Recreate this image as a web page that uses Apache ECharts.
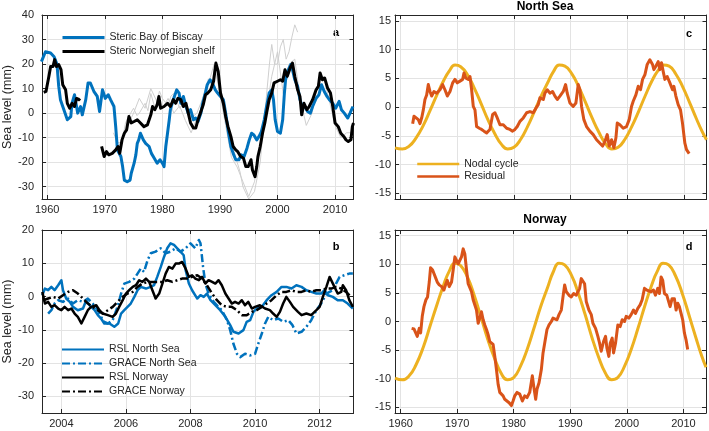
<!DOCTYPE html>
<html><head><meta charset="utf-8">
<script src="https://cdn.jsdelivr.net/npm/echarts@6/dist/echarts.min.js"></script>
<style>html,body{margin:0;padding:0;background:#fff}#c{width:709px;height:431px}</style>
</head><body><div id="c"></div>
<script>
// ---------- Panel a: steric sea level (year, mm) ----------
const stericBiscay = [[1959.0,21],[1959.7,25],[1960.6,24.5],[1961.2,23],[1961.7,20],[1962.0,11],[1962.3,5.5],[1962.9,1.4],[1963.5,-2.7],[1964.1,-1.4],[1964.3,4],[1964.75,7.5],[1965.1,2.7],[1965.3,0],[1965.8,2.7],[1966.1,-0.7],[1966.7,5.5],[1967.1,12.3],[1967.5,12.3],[1968.1,8.9],[1968.7,6.8],[1969.1,0.7],[1969.6,9.5],[1970.1,6],[1970.6,7.5],[1971.0,5.5],[1971.6,2.7],[1971.9,-5.5],[1972.2,-15],[1972.8,-17.7],[1973.1,-21.8],[1973.4,-27.3],[1973.9,-28],[1974.4,-27.3],[1974.6,-24.5],[1975.1,-20.4],[1975.4,-17],[1975.65,-12.3],[1975.9,-10.9],[1976.2,-8.2],[1976.7,-10.9],[1977.1,-12.3],[1977.7,-13.6],[1978.1,-16.4],[1978.6,-18.4],[1979.1,-20.4],[1979.6,-19],[1980.0,-20.4],[1980.3,-21.8],[1980.6,-13.6],[1980.9,-8.2],[1981.2,-2.7],[1981.4,1.4],[1981.9,5.5],[1982.5,9.5],[1982.9,8.2],[1983.2,4],[1983.65,6.8],[1984.1,2.7],[1984.5,0],[1984.9,1.4],[1985.4,-2.7],[1985.8,-2],[1986.2,-3.4],[1986.7,0],[1987.0,4],[1987.4,7.5],[1987.8,11.6],[1988.3,13.6],[1988.7,12.3],[1989.2,9.5],[1989.6,8.2],[1990.1,6.8],[1990.6,5.5],[1991.0,0],[1991.5,-8.2],[1991.9,-13.6],[1992.3,-16.4],[1992.75,-19],[1993.3,-19],[1993.7,-17],[1994.2,-17.7],[1994.7,-14.3],[1995.1,-10.9],[1995.5,-8.2],[1995.9,-8.9],[1996.4,-10.9],[1996.8,-9.5],[1997.2,-7.5],[1997.7,-2.7],[1998.1,2.7],[1998.55,8.2],[1999.0,9.5],[1999.3,5.5],[1999.6,-2.7],[2000.0,-7.5],[2000.5,-8.2],[2000.9,-2.7],[2001.2,8.2],[2001.4,13.6],[2001.9,17.7],[2002.3,19.8],[2002.6,17.7],[2003.0,13.6],[2003.5,10.9],[2003.9,5.5],[2004.3,2.7],[2004.75,2.7],[2005.2,0.7],[2005.7,0],[2006.1,2.7],[2006.7,6],[2007.2,7.5],[2007.65,11.6],[2008.1,8.9],[2008.6,6.8],[2009.0,5.5],[2009.6,4],[2010.1,2],[2010.7,4.8],[2011.1,1.4],[2011.6,0],[2012.2,-2],[2012.6,0],[2013.1,2.7]];
const stericNorwayEarly = [[1959.4,8.5],[1959.8,8.9],[1960.3,15],[1960.6,19],[1961.0,19],[1961.3,21.8],[1961.6,19],[1962.0,19.8],[1962.4,17.7],[1962.7,11.6],[1963.2,9.5],[1963.5,4],[1963.9,2],[1964.35,4],[1964.75,2.7],[1965.1,6],[1965.5,5.5],[1965.7,6]];
const stericNorwayLate = [[1969.45,-13.6],[1969.9,-17.7],[1970.3,-15.7],[1970.7,-17],[1971.3,-16.4],[1971.9,-15],[1972.3,-13.6],[1972.6,-16.4],[1973.0,-10.9],[1973.4,-8.2],[1973.8,-6.8],[1974.2,-1.4],[1974.6,-4],[1975.1,-3.4],[1975.65,-2.7],[1976.2,-4],[1976.8,-5.5],[1977.4,-4.8],[1978.0,-0.7],[1978.3,2.7],[1978.7,1.4],[1979.1,3.4],[1979.4,6.8],[1979.7,2],[1980.3,2.7],[1980.9,4],[1981.4,2.7],[1981.9,5.5],[1982.3,4],[1982.7,6],[1983.2,5.5],[1983.65,2.7],[1984.1,4],[1984.5,0],[1984.9,-4],[1985.4,-6.1],[1985.8,-6.1],[1986.2,-2.7],[1986.7,0.7],[1987.1,3.4],[1987.5,7.5],[1987.9,8.2],[1988.4,9.5],[1988.9,13],[1989.3,20.4],[1989.7,17],[1990.1,8.2],[1990.6,4],[1991.0,-1.4],[1991.4,-5.5],[1991.9,-9.5],[1992.3,-13.6],[1992.75,-15],[1993.1,-15.7],[1993.6,-17.7],[1994.1,-18.4],[1994.5,-21.8],[1994.9,-21.8],[1995.4,-19],[1995.65,-23.2],[1996.1,-25.9],[1996.4,-21.8],[1996.6,-17.7],[1997.0,-13.6],[1997.4,-8.2],[1997.8,-4],[1998.1,0],[1998.55,5.5],[1999.0,8.2],[1999.4,12.3],[2000.0,13],[2000.5,13.6],[2000.9,13],[2001.3,17.7],[2001.7,15],[2002.2,18.4],[2002.6,20.4],[2003.0,15],[2003.5,9.5],[2003.9,6.8],[2004.2,-0.7],[2004.6,4],[2005.1,1.4],[2005.5,2.7],[2006.1,5.5],[2006.7,9.5],[2007.1,10.9],[2007.4,16.4],[2007.8,13.6],[2008.2,14.3],[2008.7,10.2],[2009.2,8.2],[2009.6,2.7],[2010.0,-4],[2010.55,-5.5],[2011.0,-8.2],[2011.5,-9.5],[2011.9,-10.9],[2012.3,-11.6],[2012.75,-10.9],[2013.0,-5.5],[2013.2,-4]];
const greyStationA = [[1971.5,-8],[1972.2,-12],[1973,-12],[1973.6,-4],[1974,-2],[1975,2],[1975.6,-1],[1976,0],[1977,4],[1977.5,1],[1978,8],[1978.6,3],[1979,4],[1979.5,9],[1980,6],[1981,3],[1981.5,7],[1982,8],[1983,2],[1984,5],[1985,-2],[1986,0],[1987,6],[1988,14],[1988.6,11],[1989,18],[1989.5,14],[1990,10],[1991,-2],[1992,-12],[1993,-20],[1993.5,-24],[1994,-30],[1995,-35],[1996,-32],[1997,-20],[1998,5],[1998.6,20],[1999,28],[1999.5,20],[2000,20],[2000.5,27],[2001,30],[2001.5,22],[2002,25],[2002.5,31],[2003,36],[2003.5,33]];
const greyStationB = [[1974,-5],[1975,0],[1976,6],[1977,2],[1978,10],[1979,5],[1980,2],[1981,6],[1982,0],[1983,3],[1984,-3],[1985,-8],[1986,-2],[1987,3],[1988,12],[1989,20],[1990,8],[1991,-5],[1992,-18],[1993,-22],[1994,-28],[1995,-34],[1996,-28],[1997,-15],[1998,0],[1999,15],[2000,25],[2001,8],[2002,20],[2003,22],[2004,5],[2005,-5],[2006,0],[2007,12],[2008,15],[2009,5],[2010,-5],[2011,-10],[2012,-8],[2013,-8]];

// ---------- Panel b: RSL and GRACE (year, mm) ----------
const rslNorthSea = [[2003.41,0.4],[2003.49,2.4],[2003.59,1.9],[2003.69,2.9],[2003.79,1.9],[2003.9,3.4],[2004.0,4.9],[2004.05,1.9],[2004.15,-0.6],[2004.26,-1.6],[2004.36,-3.1],[2004.51,-4.1],[2004.67,-3.6],[2004.77,-1.1],[2004.87,-2.6],[2005.03,-4.1],[2005.13,-5.6],[2005.23,-6.6],[2005.33,-8.1],[2005.49,-8.1],[2005.64,-9.1],[2005.76,-8.1],[2005.85,-5.1],[2005.95,-4.1],[2006.05,-3.1],[2006.15,-2.1],[2006.26,-0.1],[2006.36,1.9],[2006.46,2.9],[2006.62,2.4],[2006.77,2.9],[2006.87,3.4],[2006.97,5.9],[2007.08,8.9],[2007.18,11.9],[2007.28,14.5],[2007.38,16],[2007.49,15.5],[2007.59,14.5],[2007.69,13.5],[2007.79,12.4],[2007.85,7.9],[2007.95,3.9],[2008.05,1.9],[2008.21,-0.6],[2008.31,0.4],[2008.41,-0.1],[2008.51,0.9],[2008.62,-1.1],[2008.77,-2.6],[2008.92,-4.1],[2009.08,-6.1],[2009.23,-8.6],[2009.33,-10.6],[2009.49,-11.1],[2009.64,-10.1],[2009.74,-7.6],[2009.85,-7.1],[2009.95,-4.6],[2010.05,-3.6],[2010.21,-3.1],[2010.36,-1.1],[2010.51,0.4],[2010.67,1.4],[2010.82,2.9],[2010.97,2.9],[2011.13,2.4],[2011.28,3.4],[2011.44,2.9],[2011.59,1.9],[2011.74,1.4],[2011.9,0.9],[2012.05,0.9],[2012.15,1.9],[2012.26,0.4],[2012.41,-0.1],[2012.56,-1.1],[2012.72,-1.1],[2012.87,-2.1],[2013.03,-3.6]];
const graceNorthSea = [[2003.59,-5.1],[2003.69,-4.1],[2003.79,-2.1],[2003.9,-1.1],[2004.05,-1.6],[2004.21,-0.6],[2004.36,-2.1],[2004.51,-1.1],[2004.67,-1.6],[2004.82,-0.6],[2004.97,-2.1],[2005.13,-4.1],[2005.23,-6.1],[2005.33,-7.6],[2005.44,-8.1],[2005.59,-7.1],[2005.74,-3.1],[2005.85,0.9],[2005.95,3.9],[2006.1,4.4],[2006.26,5.4],[2006.36,6.9],[2006.46,8.4],[2006.56,7.4],[2006.67,10.9],[2006.77,13],[2006.92,13.5],[2007.08,14.5],[2007.23,13],[2007.38,13.5],[2007.54,14.5],[2007.69,13.5],[2007.85,14.5],[2008.0,16],[2008.15,14.5],[2008.26,17],[2008.31,16],[2008.39,8.9],[2008.46,3.9],[2008.56,0.9],[2008.72,-1.6],[2008.87,-3.1],[2008.97,-4.1],[2009.13,-7.1],[2009.23,-10.1],[2009.33,-14.2],[2009.44,-17.2],[2009.54,-18.2],[2009.69,-17.2],[2009.85,-17.7],[2010.0,-17.2],[2010.1,-14.2],[2010.21,-11.1],[2010.31,-8.1],[2010.41,-6.1],[2010.56,-7.1],[2010.72,-6.6],[2010.87,-7.6],[2011.03,-7.1],[2011.16,-8.6],[2011.28,-11.1],[2011.44,-10.6],[2011.59,-9.1],[2011.74,-7.1],[2011.9,-4.1],[2012.05,-2.1],[2012.21,0.9],[2012.41,1.9],[2012.51,3.9],[2012.62,5.9],[2012.77,6.4],[2012.92,6.9],[2013.03,6.9]];
const rslNorway = [[2003.41,1.4],[2003.49,-2.1],[2003.59,-1.6],[2003.69,-3.1],[2003.79,-2.6],[2003.9,-3.6],[2004.0,-4.1],[2004.1,-3.1],[2004.21,-4.1],[2004.31,-3.6],[2004.41,-5.1],[2004.51,-6.1],[2004.62,-8.1],[2004.72,-6.1],[2004.82,-4.1],[2004.92,-3.1],[2005.08,-2.6],[2005.18,-4.1],[2005.28,-5.1],[2005.44,-5.6],[2005.59,-6.1],[2005.69,-5.1],[2005.79,-3.1],[2005.9,-1.1],[2006.0,0.9],[2006.1,1.9],[2006.21,2.9],[2006.31,3.4],[2006.41,4.9],[2006.51,4.4],[2006.62,5.4],[2006.72,4.4],[2006.82,1.9],[2006.92,-0.6],[2007.03,0.9],[2007.13,3.9],[2007.23,6.9],[2007.33,8.9],[2007.44,8.4],[2007.54,9.9],[2007.64,9.9],[2007.74,10.4],[2007.85,8.4],[2007.95,5.9],[2008.05,6.4],[2008.15,5.4],[2008.26,4.9],[2008.36,5.9],[2008.46,3.9],[2008.56,4.9],[2008.67,4.4],[2008.77,3.9],[2008.87,4.9],[2008.97,3.4],[2009.08,0.9],[2009.18,-0.6],[2009.28,-2.1],[2009.38,-1.6],[2009.49,-2.1],[2009.59,-1.1],[2009.69,-2.6],[2009.79,-1.6],[2009.9,-3.6],[2010.0,-3.1],[2010.15,-2.6],[2010.31,-3.6],[2010.46,-4.1],[2010.56,-5.1],[2010.67,-6.1],[2010.77,-4.6],[2010.87,-2.1],[2010.97,-0.1],[2011.08,-1.6],[2011.18,-3.1],[2011.33,-4.6],[2011.44,-5.6],[2011.59,-5.1],[2011.74,-5.6],[2011.9,-4.1],[2012.0,-3.1],[2012.1,-0.1],[2012.21,2.9],[2012.31,5.9],[2012.36,6.4],[2012.46,2.9],[2012.56,0.9],[2012.67,1.4],[2012.72,3.4],[2012.82,1.9],[2012.92,-1.1],[2013.03,-3.1]];
const graceNorway = [[2003.44,-1.1],[2003.59,-0.6],[2003.74,-0.1],[2003.9,-0.6],[2004.05,0.4],[2004.21,1.4],[2004.36,1.9],[2004.51,0.9],[2004.67,-0.6],[2004.82,-2.1],[2004.97,-3.1],[2005.13,-4.1],[2005.28,-5.1],[2005.44,-4.1],[2005.59,-3.1],[2005.74,-1.6],[2005.9,-0.1],[2006.05,0.9],[2006.21,1.4],[2006.36,2.9],[2006.51,3.9],[2006.67,4.4],[2006.82,4.4],[2006.97,4.4],[2007.13,4.4],[2007.28,4.9],[2007.44,4.4],[2007.59,4.9],[2007.74,5.4],[2007.9,5.4],[2008.05,5.9],[2008.21,6.4],[2008.36,5.4],[2008.51,3.4],[2008.67,0.9],[2008.82,-1.1],[2008.97,-2.6],[2009.13,-3.1],[2009.28,-3.1],[2009.44,-4.1],[2009.59,-5.6],[2009.74,-5.6],[2009.9,-4.6],[2010.05,-4.1],[2010.21,-3.1],[2010.36,-2.1],[2010.51,-1.1],[2010.67,0.4],[2010.82,1.4],[2010.97,1.4],[2011.13,1.9],[2011.28,1.4],[2011.44,1.4],[2011.59,1.9],[2011.74,1.4],[2011.9,1.9],[2012.05,1.9],[2012.21,2.4],[2012.36,2.4],[2012.51,2.9],[2012.67,2.4],[2012.82,1.4],[2012.97,-0.1]];

// ---------- Panels c, d: nodal cycle and residual (year, mm) ----------
const nodalNorthSea = [[1959.0,-7.1],[1960.3,-7.3],[1961.5,-6.8],[1962.7,-5.4],[1964.0,-3.2],[1965.2,-0.6],[1966.4,2.1],[1967.6,4.6],[1968.6,6.3],[1969.6,7.3],[1970.6,7.0],[1971.8,5.6],[1973.0,3.3],[1974.2,0.6],[1975.4,-2.2],[1976.6,-4.6],[1977.8,-6.5],[1978.9,-7.3],[1980.0,-7.0],[1981.2,-5.6],[1982.4,-3.4],[1983.6,-0.8],[1984.8,1.9],[1986.0,4.3],[1987.0,6.2],[1988.0,7.3],[1989.0,7.1],[1990.2,5.8],[1991.4,3.6],[1992.6,0.9],[1993.8,-1.9],[1995.0,-4.4],[1996.2,-6.4],[1997.3,-7.3],[1998.4,-7.0],[1999.6,-5.6],[2000.8,-3.4],[2002.0,-0.8],[2003.2,2.0],[2004.4,4.6],[2005.4,6.3],[2006.4,7.3],[2007.4,7.1],[2008.6,5.7],[2009.8,3.5],[2011.0,0.8],[2012.2,-2.0],[2013.2,-4.2],[2014.0,-5.7]];
const residualNorthSea = [[1962.12,-2.9],[1962.35,-1.6],[1962.7,-1.9],[1963.12,-2.2],[1963.41,-2.9],[1963.71,-1.9],[1964.0,-0.5],[1964.29,1.3],[1964.59,2.1],[1964.88,3.9],[1965.18,2.7],[1965.47,1.9],[1965.88,2.7],[1966.35,2.4],[1966.94,3],[1967.41,3.9],[1967.82,3],[1968.24,1.9],[1968.71,2.7],[1969.18,4.2],[1969.59,4.8],[1970.0,4.2],[1970.47,4.5],[1970.94,4.8],[1971.18,5.9],[1971.53,5],[1971.94,4.8],[1972.24,5.3],[1972.53,3],[1972.82,0.1],[1973.12,-0.5],[1973.41,-3.4],[1973.88,-3.7],[1974.29,-3.9],[1974.71,-4.2],[1975.18,-4.5],[1975.76,-3.9],[1976.24,-1.3],[1976.65,-1],[1977.06,-1.9],[1977.53,-3.1],[1978.12,-3.1],[1978.71,-3.7],[1979.29,-3.9],[1979.76,-4.2],[1980.18,-3.9],[1980.59,-3.4],[1981.06,-2.5],[1981.65,-1.9],[1982.24,-1],[1982.82,-0.8],[1983.41,-1],[1983.88,-0.2],[1984.29,0.4],[1984.59,1.6],[1984.88,1.9],[1985.18,1.3],[1985.47,2.4],[1985.88,3],[1986.35,2.4],[1986.82,2.7],[1987.24,1.9],[1987.65,1.3],[1988.12,1.9],[1988.71,2.7],[1989.12,3.9],[1989.41,2.4],[1989.88,0.7],[1990.47,0.1],[1990.94,0.7],[1991.35,3.9],[1991.65,3],[1991.94,0.1],[1992.35,-2.2],[1992.82,-3.4],[1993.41,-4.2],[1994.0,-4.8],[1994.59,-5.7],[1995.18,-6.3],[1995.65,-6.8],[1996.06,-6],[1996.47,-4.8],[1996.82,-6.8],[1997.24,-5.7],[1997.65,-7.1],[1998.0,-5.4],[1998.24,-2.8],[1998.71,-3.1],[1999.29,-3.7],[1999.88,-3.4],[2000.35,-2.2],[2000.76,0.1],[2001.06,1],[2001.53,2.1],[2001.94,3.6],[2002.35,3],[2002.71,4.8],[2003.12,5.6],[2003.53,7.4],[2004.0,8.2],[2004.47,7.4],[2004.71,6.5],[2005.06,7.1],[2005.47,7.9],[2005.76,6.5],[2006.06,7.7],[2006.35,6.2],[2006.65,4.8],[2007.06,5.3],[2007.53,4.2],[2008.0,3],[2008.24,3.6],[2008.59,1.9],[2009.0,0.4],[2009.41,-0.5],[2009.76,-2.8],[2010.18,-6.3],[2010.47,-7.4],[2010.94,-8.1]];
const nodalNorway = [[1959.0,-9.9],[1960.3,-10.2],[1961.5,-9.5],[1962.7,-7.6],[1964.0,-4.5],[1965.2,-0.8],[1966.4,2.9],[1967.6,6.4],[1968.6,8.8],[1969.6,10.2],[1970.6,9.8],[1971.8,7.8],[1973.0,4.6],[1974.2,0.8],[1975.4,-3.1],[1976.6,-6.4],[1977.8,-9.1],[1978.9,-10.2],[1980.0,-9.8],[1981.2,-7.8],[1982.4,-4.8],[1983.6,-1.1],[1984.8,2.7],[1986.0,6.0],[1987.0,8.7],[1988.0,10.2],[1989.0,9.9],[1990.2,8.1],[1991.4,5.0],[1992.6,1.3],[1993.8,-2.7],[1995.0,-6.2],[1996.2,-9.0],[1997.3,-10.2],[1998.4,-9.8],[1999.6,-7.8],[2000.8,-4.8],[2002.0,-1.1],[2003.2,2.8],[2004.4,6.4],[2005.4,8.8],[2006.4,10.2],[2007.4,9.9],[2008.6,8.0],[2009.8,4.9],[2011.0,1.1],[2012.2,-2.8],[2013.2,-5.9],[2014.0,-8.0]];
const residualNorway = [[1961.94,-1.2],[1962.35,-1.3],[1962.7,-1.4],[1962.94,-2.6],[1963.29,-1.2],[1963.53,-2],[1963.82,0.9],[1964.12,2.6],[1964.47,3.8],[1964.76,4.3],[1965.06,6.9],[1965.29,9.4],[1965.65,9],[1965.88,8.7],[1966.24,7.5],[1966.47,6.9],[1966.82,6.4],[1967.24,6.1],[1967.65,5.5],[1968.0,6.6],[1968.24,7.2],[1968.59,6.1],[1969.0,6.9],[1969.29,9],[1969.59,11.3],[1969.88,10.7],[1970.18,10.1],[1970.47,10.4],[1970.76,11.3],[1971.06,12.7],[1971.35,11.8],[1971.65,9],[1971.94,6.6],[1972.24,6.4],[1972.53,5.2],[1972.82,3.8],[1973.12,4],[1973.41,2],[1973.71,-0.3],[1974.0,0.6],[1974.29,1.7],[1974.59,0.3],[1974.88,-0.6],[1975.18,-1.4],[1975.47,-2.3],[1975.76,-3.5],[1976.06,-3.5],[1976.35,-4],[1976.65,-6.1],[1976.94,-8.4],[1977.24,-11],[1977.53,-12.4],[1977.82,-12.1],[1978.12,-13],[1978.41,-13.6],[1978.71,-13.9],[1979.18,-14.2],[1979.59,-14.7],[1979.88,-13.9],[1980.18,-13],[1980.59,-12.4],[1981.06,-12.7],[1981.53,-13.9],[1981.94,-13],[1982.35,-13.3],[1982.82,-12.4],[1983.29,-9.5],[1983.53,-11.3],[1983.88,-13.6],[1984.12,-11.8],[1984.47,-10.7],[1984.88,-8.4],[1985.18,-5.5],[1985.47,-3.8],[1985.88,-1.4],[1986.24,-0.6],[1986.65,0],[1986.94,0.6],[1987.24,0.9],[1987.65,0.3],[1988.0,1.2],[1988.41,2],[1988.71,4.3],[1989.0,6.4],[1989.29,5.2],[1989.76,4.6],[1990.18,4.3],[1990.59,4.9],[1991.06,4.6],[1991.35,5.2],[1991.65,5.8],[1991.94,7.5],[1992.24,7.8],[1992.53,6.6],[1992.82,3.5],[1993.29,2],[1993.71,1.2],[1994.0,-0.3],[1994.47,-1.2],[1994.88,-2.6],[1995.18,-3.8],[1995.47,-5.2],[1995.88,-3.5],[1996.24,-2.6],[1996.47,-4.6],[1996.82,-6.1],[1997.06,-3.8],[1997.41,-2.9],[1997.65,-5.5],[1998.0,-3.8],[1998.41,-0.6],[1998.82,-0.9],[1999.18,0.3],[1999.59,0],[1999.88,0.9],[2000.35,0.6],[2000.76,1.2],[2001.18,2],[2001.53,1.4],[2001.94,2.3],[2002.35,2.9],[2002.71,3.8],[2003.12,5.8],[2003.53,5.5],[2003.88,5.8],[2004.29,5.2],[2004.71,5.5],[2005.06,4.6],[2005.47,5.8],[2005.76,4.9],[2006.06,7.8],[2006.35,7.2],[2006.65,4.9],[2007.06,4.6],[2007.41,4.3],[2007.65,2.6],[2008.0,4],[2008.41,4],[2008.71,2],[2009.0,3.2],[2009.29,2.6],[2009.59,2.9],[2009.88,0.3],[2010.18,-2],[2010.47,-3.2],[2010.76,-4.9]];

// ---------- labels ----------
const legendA = ['Steric Bay of Biscay','Steric Norwegian shelf'];
const legendB = ['RSL North Sea','GRACE North Sea','RSL Norway','GRACE Norway'];
const legendC = ['Nodal cycle','Residual'];
const panelTitles = ['North Sea','Norway'];
const panelLetters = ['a','b','c','d'];
const yAxisTitle = 'Sea level (mm)';

// ---------- styling ----------
const FONT = 'Liberation Sans, Helvetica, Arial, sans-serif';
const AX = '#262626', GRID = '#e3e3e3';
const BLUE = '#0072BD', ORANGE = '#EDB120', RED = '#D95319';
const DASHDOT = [8,3,2,3];

const grids = [
  {left:42, top:15, width:311.5, height:184},
  {left:42, top:230, width:311.5, height:183},
  {left:395, top:15, width:311.5, height:184},
  {left:395, top:230, width:311.5, height:183}
];
const xr = [[1959.1,2013.2,10,5],[2003.4,2013.05,2,5],[1959,2014,10,5],[1959,2014,10,5]];
const yr = [[-35,40,10,7],[-35,20,10,5],[-16,16,5,6],[-16,16,5,6]];
const xShow = [true,true,false,true];
const yMargin = [8,8,4,4];

function fmt(step){return v=>{const r=Math.round(v);return (Math.abs(v-r)<1e-6 && r%step===0)?String(r):'';};}

const xAxis=[], yAxis=[];
for(let i=0;i<4;i++){
  xAxis.push({type:'value',gridIndex:i,min:xr[i][0],max:xr[i][1],splitNumber:xr[i][3],
    axisLine:{show:true,onZero:false,lineStyle:{color:AX,width:1}},
    axisTick:{inside:true,length:4,lineStyle:{color:AX}},
    axisLabel:{show:xShow[i],formatter:fmt(xr[i][2]),color:AX,fontSize:11,fontFamily:FONT,margin:5,hideOverlap:false},
    splitLine:{show:true,lineStyle:{color:GRID,width:1}}});
  yAxis.push({type:'value',gridIndex:i,min:yr[i][0],max:yr[i][1],splitNumber:yr[i][3],
    name:(i<2?yAxisTitle:''),nameLocation:'middle',nameGap:24,
    nameTextStyle:{fontSize:12.5,fontFamily:FONT,color:AX},
    axisLine:{show:true,onZero:false,lineStyle:{color:AX,width:1}},
    axisTick:{inside:true,length:4,lineStyle:{color:AX}},
    axisLabel:{formatter:fmt(yr[i][2]),color:AX,fontSize:11,fontFamily:FONT,margin:yMargin[i],hideOverlap:false},
    splitLine:{show:true,lineStyle:{color:GRID,width:1}}});
}
for(let i=0;i<4;i++){
  xAxis.push({type:'value',gridIndex:i,position:'top',min:xr[i][0],max:xr[i][1],splitNumber:xr[i][3],
    axisLine:{show:true,onZero:false,lineStyle:{color:AX,width:1}},
    axisTick:{inside:true,length:4,lineStyle:{color:AX}},axisLabel:{show:false},splitLine:{show:false}});
  yAxis.push({type:'value',gridIndex:i,position:'right',min:yr[i][0],max:yr[i][1],splitNumber:yr[i][3],
    axisLine:{show:true,onZero:false,lineStyle:{color:AX,width:1}},
    axisTick:{inside:true,length:4,lineStyle:{color:AX}},axisLabel:{show:false},splitLine:{show:false}});
}

function line(name, gi, data, color, width, type, smooth){
  return {name, type:'line', xAxisIndex:gi, yAxisIndex:gi, data, symbol:'none', smooth:smooth||false,
    lineStyle:{color, width, type:type||'solid', cap:'butt', join:'round'}, itemStyle:{color},
    emphasis:{disabled:true}, animation:false, silent:true};
}

const stericNorway = stericNorwayEarly.concat([[1967.5,null]], stericNorwayLate);

const series = [
  line('grey A',0,greyStationA,'#cfcfcf',1),
  line('grey B',0,greyStationB,'#cfcfcf',1),
  line(legendA[0],0,stericBiscay,BLUE,3),
  line(legendA[1],0,stericNorway,'#000000',3),
  line(legendB[0],1,rslNorthSea,BLUE,2.5),
  line(legendB[1],1,graceNorthSea,BLUE,2.5,DASHDOT),
  line(legendB[2],1,rslNorway,'#000000',2.5),
  line(legendB[3],1,graceNorway,'#000000',2.5,DASHDOT),
  line(legendC[0],2,nodalNorthSea,ORANGE,3,null,0.5),
  line(legendC[1],2,residualNorthSea,RED,3),
  line(legendC[0],3,nodalNorway,ORANGE,3,null,0.5),
  line(legendC[1],3,residualNorway,RED,3)
];

const legTxt = {fontSize:10.5,fontFamily:FONT,color:AX};
const legBase = {orient:'vertical',padding:0,itemHeight:12,textStyle:legTxt,selectedMode:false,itemStyle:{opacity:0},lineStyle:{width:2.5}};
const legend = [
  Object.assign({},legBase,{data:legendA,left:61,top:32,itemWidth:42,itemGap:3,lineStyle:{width:3}}),
  Object.assign({},legBase,{data:legendB,left:61,top:344,itemWidth:42,itemGap:3,lineStyle:{width:2}}),
  Object.assign({},legBase,{data:legendC,left:416,top:158.5,itemWidth:42,itemGap:1.6})
];

const txt=(t,x,y,size)=>({type:'text',x,y,silent:true,style:{text:t,font:'bold '+size+'px '+FONT,fill:'#000',align:'center',verticalAlign:'middle'}});
const graphic = [
  txt(panelTitles[0],545,7,12), txt(panelTitles[1],545,220,12),
  txt(panelLetters[0],336,33,11), txt(panelLetters[1],336,247,11),
  txt(panelLetters[2],689,34,11), txt(panelLetters[3],689,247,11)
];

const chart = echarts.init(document.getElementById('c'), null, {renderer:'canvas'});
chart.setOption({animation:false, backgroundColor:'#fff', grid:grids, xAxis, yAxis, series, legend, graphic});
</script></body></html>
